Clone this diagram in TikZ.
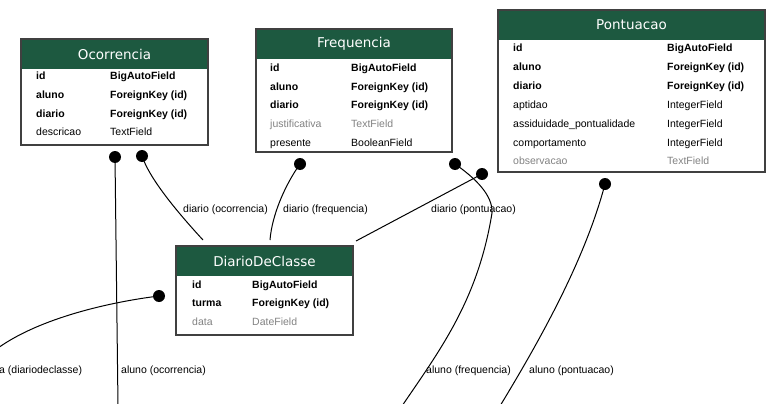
\documentclass[tikz,border=0pt]{standalone}
\usepackage{fontspec}
\setmainfont{Liberation Sans}
\newfontfamily\hdfont{DejaVu Sans}
\definecolor{hdgreen}{RGB}{29,89,64}
\definecolor{nullgray}{RGB}{130,130,130}
\definecolor{boxline}{RGB}{64,64,64}
\tikzset{
  fld/.style={anchor=west,inner sep=0pt,yshift=-1.5pt,text height=8pt,text depth=2pt,font=\fontsize{10.5}{12}\selectfont},
  key/.style={fld,font=\fontsize{10.5}{12}\selectfont\bfseries},
  opt/.style={fld,text=nullgray},
  rel/.style={line width=1pt},
  fkdot/.style={circle,fill=black,inner sep=0pt,minimum size=12pt},
  lbl/.style={fld,yshift=.5pt},
  title/.style={font=\hdfont\fontsize{13.5}{15}\selectfont,text=white,inner sep=0pt}
}
\begin{document}
\begin{tikzpicture}[x=1pt,y=-1pt]
\useasboundingbox (0,0) rectangle (782,404);
\def\tbl#1#2#3#4#5#6#7{\fill[hdgreen] (#2,#3) rectangle (#4,#5);\draw[line width=1.6pt,boxline] (#2,#3) rectangle (#4,#6);\node[title] (#1) at ({(#2+#4)/2},{(#3+#5)/2}) {#7};}
\def\row#1#2#3#4#5#6#7{\node[#1] (#2-f) at (#3,#5) {#6};\node[#1] (#2-t) at (#4,#5) {#7};}
\tbl{oc}{21}{39}{208}{69}{145}{Ocorrencia}
\row{key}{oc1}{36}{110}{75}{id}{BigAutoField}
\row{key}{oc2}{36}{110}{94}{aluno}{ForeignKey (id)}
\row{key}{oc3}{36}{110}{113}{diario}{ForeignKey (id)}
\row{fld}{oc4}{36}{110}{131}{descricao}{TextField}
\tbl{fr}{256}{29}{452}{59}{152}{Frequencia}
\row{key}{fr1}{270}{351}{67}{id}{BigAutoField}
\row{key}{fr2}{270}{351}{86}{aluno}{ForeignKey (id)}
\row{key}{fr3}{270}{351}{104}{diario}{ForeignKey (id)}
\row{opt}{fr4}{270}{351}{123}{justificativa}{TextField}
\row{fld}{fr5}{270}{351}{142}{presente}{BooleanField}
\tbl{po}{498}{10}{765}{40}{172}{Pontuacao}
\row{key}{po1}{513}{667}{47}{id}{BigAutoField}
\row{key}{po2}{513}{667}{66}{aluno}{ForeignKey (id)}
\row{key}{po3}{513}{667}{85}{diario}{ForeignKey (id)}
\row{fld}{po4}{513}{667}{104}{aptidao}{IntegerField}
\row{fld}{po5}{513}{667}{123}{assiduidade\_pontualidade}{IntegerField}
\row{fld}{po6}{513}{667}{142}{comportamento}{IntegerField}
\row{opt}{po7}{513}{667}{160}{observacao}{TextField}
\tbl{dc}{176}{246}{353}{276}{335}{DiarioDeClasse}
\row{key}{dc1}{192}{252}{284}{id}{BigAutoField}
\row{key}{dc2}{192}{252}{302}{turma}{ForeignKey (id)}
\row{opt}{dc3}{192}{252}{321}{data}{DateField}
\node[fkdot] (oc-aluno) at (115,157) {};
\node[fkdot] (oc-diario) at (142,156) {};
\node[fkdot] (fr-diario) at (300,164) {};
\node[fkdot] (fr-aluno) at (455,164) {};
\node[fkdot] (po-diario) at (482,174) {};
\node[fkdot] (po-aluno) at (605,184) {};
\node[fkdot] (dc-turma) at (159,296) {};
\coordinate (dc-in1) at (203,240);
\coordinate (dc-in2) at (270,240);
\coordinate (dc-in3) at (356,241);
\coordinate (al-out1) at (118,406);
\coordinate (al-out2) at (402,406);
\coordinate (al-out3) at (500,406);
\coordinate (tu-out) at (-2,348);
\draw[rel] (oc-aluno.center) -- (al-out1);
\draw[rel] (oc-diario.center) .. controls (150,180) and (180,215) .. (dc-in1);
\draw[rel] (fr-diario.center) .. controls (285,185) and (272,215) .. (dc-in2);
\draw[rel] (fr-aluno.center) .. controls (475,178) and (493,195) .. (492,213) .. controls (478,300) and (440,350) .. (al-out2);
\draw[rel] (po-diario.center) -- (dc-in3);
\draw[rel] (po-aluno.center) .. controls (585,260) and (540,340) .. (al-out3);
\draw[rel] (dc-turma.center) .. controls (110,302) and (40,318) .. (tu-out);
\node[lbl] (l-ocdi) at (183,208) {diario (ocorrencia)};
\node[lbl] (l-frdi) at (283,208) {diario (frequencia)};
\node[lbl] (l-podi) at (431,208) {diario (pontuacao)};
\node[lbl] (l-ocal) at (121,369) {aluno (ocorrencia)};
\node[lbl] (l-fral) at (426,369) {aluno (frequencia)};
\node[lbl] (l-poal) at (529,369) {aluno (pontuacao)};
\node[lbl] (l-dctu) at (-1,369) {a (diariodeclasse)};
\end{tikzpicture}
\end{document}
